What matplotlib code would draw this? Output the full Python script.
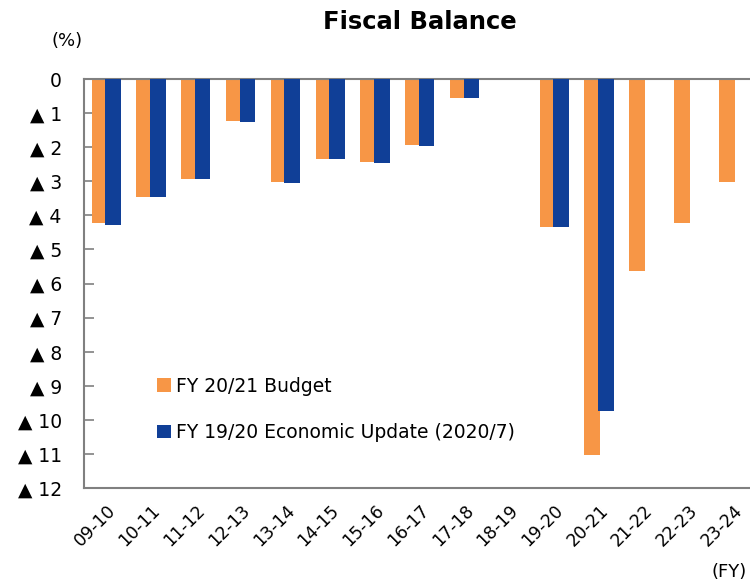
import numpy as np
import matplotlib
matplotlib.use("Agg")
import matplotlib.pyplot as plt

years = ["09-10", "10-11", "11-12", "12-13", "13-14", "14-15", "15-16", "16-17",
         "17-18", "18-19", "19-20", "20-21", "21-22", "22-23", "23-24"]
budget = [4.23, 3.45, 2.93, 1.22, 3.03, 2.35, 2.44, 1.93, 0.55, np.nan, 4.35, 11.03, 5.63, 4.23, 3.02]
update = [4.27, 3.45, 2.93, 1.25, 3.06, 2.35, 2.46, 1.97, 0.55, np.nan, 4.35, 9.75, np.nan, np.nan, np.nan]
ytick_labels = ["0"] + ["\u25b2 %d" % v for v in range(1, 13)]

orange = "#F79646"
blue = "#103F97"

fig = plt.figure(figsize=(7.5, 5.84), dpi=100)
ax = fig.add_axes([0.112, 0.1644, 0.888, 0.7003])

x = np.arange(len(years))
ax.bar(x, budget, width=0.35, color=orange, label="FY 20/21 Budget", zorder=2)
ax.bar(x + 0.3, update, width=0.35, color=blue, label="FY 19/20 Economic Update (2020/7)", zorder=3)

ax.set_ylim(12, 0)
ax.set_xlim(-0.346, 14.52)
ax.set_yticks(range(13))
ax.set_yticklabels(ytick_labels, fontsize=13.5)
ax.set_xticks(x + 0.15)
ax.set_xticklabels(years, fontsize=12.5, rotation=45, ha="right", rotation_mode="anchor")

ax.spines["right"].set_visible(False)
for s in ["left", "top", "bottom"]:
    ax.spines[s].set_color("#808080")
    ax.spines[s].set_linewidth(1.5)
ax.tick_params(axis="y", direction="in", length=7, color="#808080", width=1.2, pad=16)
ax.tick_params(axis="x", length=0, pad=10)

ax.legend(loc="upper left", bbox_to_anchor=(0.085, 0.313), frameon=False, fontsize=13.5,
          handlelength=0.7, handleheight=0.75, handletextpad=0.3, labelspacing=1.45)

fig.text(0.56, 0.962, "Fiscal Balance", fontsize=17.5, fontweight="bold", ha="center", va="center")
fig.text(0.09, 0.93, "(%)", fontsize=13, ha="center", va="center")
fig.text(0.972, 0.02, "(FY)", fontsize=13, ha="center", va="center")

fig.savefig("out.png", dpi=100)
